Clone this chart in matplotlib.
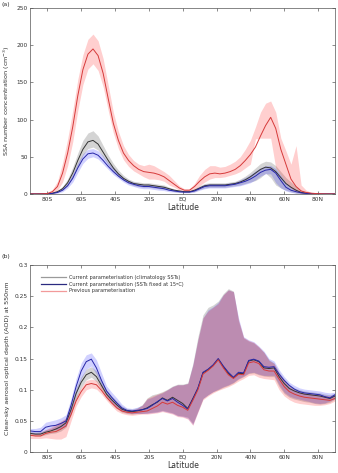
import matplotlib
matplotlib.use('Agg')
import matplotlib.pyplot as plt
from matplotlib.lines import Line2D

# ---- panel (a): SSA number concentration (cm-3) ----
lat_a = [-90, -85, -80, -77, -74, -71, -68, -65, -62, -59, -56, -53, -50, -47, -44, -41, -38, -35, -32,
         -29, -26, -23, -20, -17, -14, -11, -8, -5, -2, 1, 4, 7, 10, 13, 16, 19, 22, 25, 28, 31, 34, 37,
         40, 43, 46, 49, 52, 55, 58, 61, 64, 67, 70, 73, 76, 80, 85, 90]

prev_a = [0, 0, 0.5, 3, 10, 28, 55, 90, 132, 167, 188, 195, 186, 162, 128, 95, 72, 55, 45,
          38, 33, 30, 29, 28, 26, 23, 18, 13, 8, 5, 5, 10, 17, 23, 27, 28, 27, 28, 30, 33, 38, 45,
          53, 63, 78, 92, 103, 88, 60, 40, 20, 10, 4, 2, 1, 0.3, 0, 0]
prev_a_lo = [0, 0, 0, 1.5, 5, 16, 38, 70, 112, 147, 168, 175, 166, 144, 112, 82, 61, 46, 37,
             31, 27, 23, 20, 20, 19, 17, 12, 9, 5, 3, 3, 6, 11, 16, 20, 22, 22, 23, 25, 27, 30, 35,
             40, 74, 75, 75, 75, 35, 25, 15, 8, 3, 1, 0.5, 0, 0, 0, 0]
prev_a_hi = [0, 0.5, 2, 6, 17, 42, 74, 112, 154, 187, 208, 215, 206, 182, 146, 110, 84, 65, 53,
             45, 40, 38, 40, 38, 34, 30, 25, 18, 11, 7, 7, 14, 25, 33, 38, 38, 36, 37, 40, 44, 50, 60,
             72, 90, 110, 122, 125, 110, 75, 58, 40, 65, 12, 5, 2, 0.5, 0, 0]

clim_a = [0, 0, 0.3, 1, 3, 7, 15, 28, 45, 60, 70, 72, 67, 56, 45, 35, 27, 21, 17,
          14, 13, 12, 12, 11, 10, 9, 7, 5, 4, 3, 3, 5, 8, 11, 12, 12, 12, 12, 13, 14, 16, 19,
          23, 28, 33, 36, 35, 30, 22, 14, 9, 5, 2, 1, 0.5, 0, 0, 0]
clim_a_lo = [0, 0, 0, 0.5, 2, 5, 11, 22, 37, 52, 61, 63, 59, 49, 39, 30, 23, 18, 14,
             11, 10, 9, 9, 8, 7, 6, 5, 3, 2, 2, 2, 3, 6, 8, 9, 9, 9, 9, 10, 11, 12, 14,
             16, 18, 22, 28, 22, 12, 8, 5, 3, 1, 0.5, 0, 0, 0, 0, 0]
clim_a_hi = [0, 0.3, 1, 2, 5, 10, 20, 36, 55, 72, 82, 85, 78, 65, 52, 41, 32, 25, 20,
             17, 16, 15, 15, 14, 13, 12, 9, 7, 5, 4, 4, 7, 11, 14, 15, 15, 15, 15, 16, 17, 20, 24,
             29, 35, 41, 44, 43, 38, 30, 22, 16, 10, 5, 2, 1, 0.3, 0, 0]

fix_a = [0, 0, 0.2, 0.7, 2, 5, 11, 21, 35, 47, 54, 55, 52, 45, 37, 30, 24, 19, 15,
         13, 11, 10, 10, 9, 8, 7, 5, 4, 3, 2.5, 2.5, 4, 7, 10, 11, 11, 11, 11, 12, 13, 15, 17,
         20, 24, 29, 32, 33, 28, 18, 9, 5, 3, 1.5, 0.7, 0.3, 0, 0, 0]
fix_a_lo = [0, 0, 0, 0.3, 1, 3, 8, 16, 29, 41, 48, 50, 47, 40, 33, 26, 21, 16, 12,
            10, 8, 7, 7, 6, 5, 4.5, 3, 2.5, 2, 1.5, 1.5, 2.5, 5, 7, 8, 8, 8, 8, 9, 10, 11, 13,
            15, 19, 24, 27, 27, 15, 8, 4, 2, 1, 0.5, 0, 0, 0, 0, 0]
fix_a_hi = [0, 0.2, 0.6, 1.5, 3.5, 8, 15, 27, 42, 54, 60, 61, 58, 51, 42, 35, 28, 22, 18,
            16, 14, 13, 13, 12, 11, 10, 7, 6, 4, 3.5, 3.5, 6, 10, 13, 14, 14, 14, 14, 15, 16, 19, 22,
            26, 31, 35, 38, 38, 34, 25, 15, 9, 5, 3, 1.5, 0.7, 0.2, 0, 0]

# ---- panel (b): clear-sky AOD at 550nm ----
lat_b = [-90, -87, -84, -81, -78, -75, -72, -69, -66, -63, -60, -57, -54, -51, -48, -45, -42, -39, -36,
         -33, -30, -27, -24, -21, -18, -15, -12, -9, -6, -3, 0, 3, 6, 9, 12, 15, 18, 21, 24, 27, 30,
         33, 36, 39, 42, 45, 48, 51, 54, 57, 60, 63, 66, 69, 72, 75, 78, 81, 84, 87, 90]

fix_b = [.034, .033, .033, .040, .042, .043, .046, .050, .075, .105, .130, .145, .149, .135, .115, .098,
         .088, .079, .071, .067, .066, .067, .068, .070, .075, .081, .086, .082, .086, .080, .075, .069,
         .085, .103, .128, .133, .140, .150, .138, .128, .120, .128, .127, .147, .149, .146, .137, .136,
         .137, .125, .115, .107, .101, .097, .095, .094, .093, .092, .089, .087, .092]
fix_b_lo = [.030, .029, .030, .034, .036, .036, .038, .042, .064, .093, .118, .133, .138, .125, .106, .090,
            .080, .072, .066, .063, .062, .062, .062, .062, .063, .064, .066, .064, .062, .058, .057, .054,
            .044, .065, .086, .092, .097, .101, .105, .108, .112, .118, .122, .127, .128, .125, .123, .123,
            .123, .108, .096, .090, .087, .085, .083, .081, .079, .078, .079, .082, .086]
fix_b_hi = [.038, .038, .040, .048, .050, .052, .055, .060, .086, .118, .143, .156, .159, .148, .127, .106,
            .096, .087, .077, .071, .070, .072, .075, .085, .088, .092, .095, .100, .105, .108, .108, .110,
            .140, .180, .215, .228, .233, .240, .252, .260, .257, .215, .185, .180, .177, .170, .162, .150,
            .146, .132, .121, .112, .107, .103, .101, .100, .099, .098, .096, .095, .096]

clim_b = [.030, .029, .029, .032, .034, .037, .041, .047, .068, .094, .112, .124, .128, .121, .107, .093,
          .084, .076, .069, .066, .065, .066, .068, .071, .076, .080, .087, .083, .088, .083, .078, .070,
          .086, .102, .127, .132, .139, .149, .137, .126, .119, .126, .126, .146, .148, .145, .135, .134,
          .135, .121, .110, .102, .098, .095, .093, .092, .091, .090, .088, .086, .090]
clim_b_lo = [.027, .026, .026, .028, .030, .031, .034, .040, .060, .085, .104, .116, .120, .113, .100, .087,
             .078, .070, .064, .062, .061, .062, .062, .063, .064, .065, .067, .065, .063, .059, .058, .056,
             .046, .066, .086, .092, .097, .100, .104, .107, .111, .117, .121, .126, .127, .124, .122, .121,
             .121, .105, .094, .088, .085, .083, .081, .080, .078, .077, .078, .080, .085]
clim_b_hi = [.033, .032, .033, .036, .038, .042, .048, .054, .077, .103, .121, .133, .137, .130, .115, .100,
             .090, .082, .074, .070, .069, .071, .076, .087, .092, .094, .097, .101, .106, .109, .109, .111,
             .142, .185, .220, .232, .236, .242, .254, .262, .258, .210, .183, .178, .175, .168, .160, .148,
             .143, .128, .117, .108, .103, .100, .098, .097, .096, .095, .093, .092, .094]

prev_b = [.027, .026, .026, .030, .032, .033, .037, .042, .060, .082, .097, .108, .110, .108, .099, .088,
          .079, .071, .066, .064, .063, .064, .065, .066, .070, .074, .080, .077, .080, .075, .072, .067,
          .083, .100, .125, .131, .138, .148, .135, .124, .118, .125, .124, .143, .145, .142, .132, .130,
          .130, .117, .105, .097, .093, .090, .088, .087, .086, .085, .084, .083, .086]
prev_b_lo = [.022, .022, .022, .023, .022, .021, .021, .025, .050, .074, .089, .100, .103, .101, .093, .083,
             .074, .066, .062, .060, .059, .060, .061, .061, .062, .063, .065, .063, .061, .057, .056, .053,
             .043, .064, .084, .090, .095, .099, .102, .105, .109, .114, .118, .123, .124, .120, .118, .117,
             .116, .100, .090, .084, .080, .078, .077, .076, .075, .075, .076, .078, .082]
prev_b_hi = [.031, .030, .031, .036, .040, .045, .050, .055, .070, .090, .104, .115, .117, .115, .106, .094,
             .085, .077, .071, .068, .067, .070, .075, .086, .090, .093, .096, .100, .105, .108, .108, .110,
             .139, .180, .215, .226, .232, .238, .252, .260, .257, .212, .184, .179, .176, .169, .160, .147,
             .142, .126, .114, .105, .100, .097, .095, .094, .093, .092, .091, .090, .092]

xticks = [-80, -60, -40, -20, 0, 20, 40, 60, 80]
xlabels = ['80S', '60S', '40S', '20S', 'EQ', '20N', '40N', '60N', '80N']
yticks_b = [0, 0.05, 0.1, 0.15, 0.2, 0.25, 0.3]
ylabels_b = ['0', '0.05', '0.1', '0.15', '0.2', '0.25', '0.3']

txt = '#333333'
plt.rcParams['font.family'] = ['DejaVu Sans']

fig = plt.figure(figsize=(3.38, 4.73), dpi=100)
ax1 = fig.add_axes([0.09, 0.59, 0.901, 0.393])
ax2 = fig.add_axes([0.09, 0.044, 0.901, 0.396])


def draw(ax, lat, clim, clo, chi, fix, flo, fhi, prev, plo, phi):
    ax.fill_between(lat, clo, chi, color='k', alpha=0.17, lw=0)
    ax.fill_between(lat, flo, fhi, color='b', alpha=0.18, lw=0)
    ax.fill_between(lat, plo, phi, color='r', alpha=0.19, lw=0)
    ax.plot(lat, clim, color='#333333', lw=0.7)
    ax.plot(lat, fix, color='#2626a8', lw=0.7)
    ax.plot(lat, prev, color='#d63a3a', lw=0.7)
    ax.set_xlim(-90, 90)
    ax.set_xticks(xticks)
    ax.set_xticklabels(xlabels)
    ax.tick_params(direction='in', top=True, right=True, labelsize=4.2, colors=txt,
                   length=2.5, width=0.4, pad=2)
    for s in ax.spines.values():
        s.set_linewidth(0.5)
        s.set_color('#555555')
    ax.set_xlabel('Latitude', fontsize=5.5, color=txt, labelpad=1)


draw(ax1, lat_a, clim_a, clim_a_lo, clim_a_hi, fix_a, fix_a_lo, fix_a_hi, prev_a, prev_a_lo, prev_a_hi)
ax1.set_ylim(0, 250)
ax1.set_yticks([0, 50, 100, 150, 200, 250])
ax1.set_ylabel('SSA number concentration (cm$^{-3}$)', fontsize=4.6, color=txt, labelpad=3)

draw(ax2, lat_b, clim_b, clim_b_lo, clim_b_hi, fix_b, fix_b_lo, fix_b_hi, prev_b, prev_b_lo, prev_b_hi)
ax2.set_ylim(0, 0.3)
ax2.set_yticks(yticks_b)
ax2.set_yticklabels(ylabels_b)
ax2.set_ylabel('Clear-sky aerosol optical depth (AOD) at 550nm', fontsize=4.6, color=txt, labelpad=3)

handles = [Line2D([], [], color='#9a9a9a', lw=0.9),
           Line2D([], [], color='#2a2a80', lw=0.9),
           Line2D([], [], color='#f29a9a', lw=0.9)]
names = ['Current parameterisation (climatology SSTs)',
         'Current parameterisation (SSTs fixed at 15ºC)',
         'Previous parameterisation']
ax2.legend(handles, names, loc='upper left', bbox_to_anchor=(0.02, 0.97), frameon=False,
           fontsize=3.6, handlelength=5, handletextpad=0.5, labelspacing=0.35, labelcolor=txt)

fig.text(0.004, 0.996, '(a)', fontsize=4.5, va='top', color=txt)
fig.text(0.004, 0.462, '(b)', fontsize=4.5, va='top', color=txt)

fig.savefig('out.png', dpi=100)
